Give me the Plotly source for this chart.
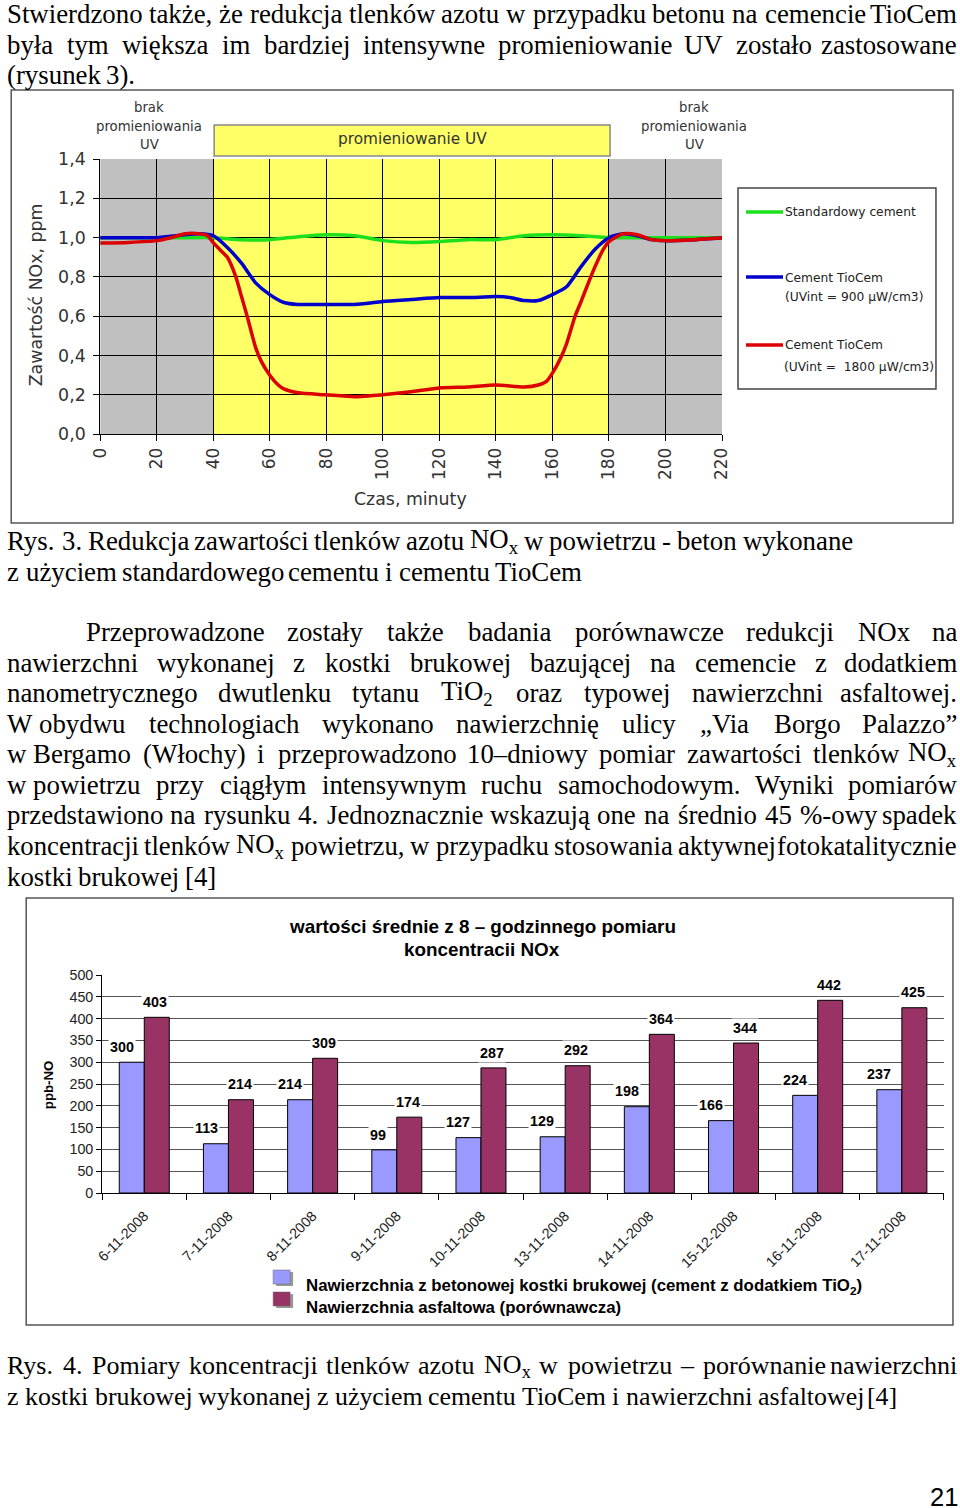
import re
import plotly.graph_objects as go

# Layout is written in page pixels of the 960x1508 page; the viewer shows the figure
# with a 10 px offset and a slight down-scale, which is compensated here.
SX, SY = 980.0 / 960.0, 1528.0 / 1508.0
W_PX, H_PX = 968, 1516
def X(px): return (px * SX - 10.0) / W_PX
def Y(py): return 1 - (py * SY - 10.0) / H_PX
def F(s): return s * SX

# ---------------- Fig. 3 data (NOx content, ppm vs time, min) ----------------
t_green = [0, 10, 20, 30, 40, 50, 60, 70, 80, 90, 100, 110, 120, 130, 140, 150, 160, 170, 180, 190, 200, 210, 220]
v_green = [1.0, 1.0, 1.0, 1.0, 1.0, 0.99, 0.99, 1.005, 1.015, 1.01, 0.985, 0.975, 0.98, 0.99, 0.99, 1.01, 1.015, 1.01, 1.0, 1.0, 1.0, 1.0, 1.0]

t_blue = [0, 10, 20, 30, 35, 40, 45, 50, 55, 60, 65, 70, 80, 90, 100, 110, 120, 130, 140, 145, 150, 155, 160, 165, 170, 175, 180, 185, 190, 195, 200, 210, 220]
v_blue = [1.0, 1.0, 1.0, 1.015, 1.02, 1.01, 0.95, 0.87, 0.77, 0.71, 0.67, 0.66, 0.66, 0.66, 0.675, 0.685, 0.695, 0.695, 0.70, 0.695, 0.68, 0.68, 0.71, 0.75, 0.85, 0.94, 1.0, 1.02, 1.01, 0.99, 0.985, 0.99, 1.0]

t_red = [0, 10, 20, 25, 30, 35, 38, 40, 43, 45, 48, 50, 52, 55, 57, 60, 63, 65, 70, 80, 90, 100, 110, 120, 130, 140, 150, 155, 158, 160, 163, 165, 168, 170, 173, 175, 178, 180, 185, 190, 195, 200, 210, 220]
v_red = [0.973, 0.976, 0.985, 1.0, 1.02, 1.02, 1.01, 0.975, 0.93, 0.90, 0.80, 0.70, 0.60, 0.44, 0.37, 0.30, 0.25, 0.23, 0.21, 0.20, 0.19, 0.20, 0.215, 0.235, 0.24, 0.25, 0.24, 0.25, 0.27, 0.31, 0.39, 0.46, 0.60, 0.67, 0.78, 0.85, 0.94, 0.98, 1.02, 1.015, 0.99, 0.985, 0.99, 1.0]

y3_ticks = [0, 0.2, 0.4, 0.6, 0.8, 1.0, 1.2, 1.4]
y3_labels = ["0,0", "0,2", "0,4", "0,6", "0,8", "1,0", "1,2", "1,4"]
x3_ticks = list(range(0, 221, 20))
phases = [(0, 40, "#C0C0C0"), (40, 180, "#FFFF66"), (180, 220, "#C0C0C0")]

# ---------------- Fig. 4 data (ppb-NO) ----------------
dates = ["6-11-2008", "7-11-2008", "8-11-2008", "9-11-2008", "10-11-2008",
         "13-11-2008", "14-11-2008", "15-12-2008", "16-11-2008", "17-11-2008"]
concrete = [300, 113, 214, 99, 127, 129, 198, 166, 224, 237]
asphalt = [403, 214, 309, 174, 287, 292, 364, 344, 442, 425]

# ---------------- page text ----------------
NB = "\u00a0"
para1 = [
    ("Stwierdzono także, że redukcja tlenków azotu w przypadku betonu na cemencie TioCem", True),
    ("była tym większa im bardziej intensywne promieniowanie UV zostało zastosowane", True),
    ("(rysunek 3).", False),
]
cap3 = [
    ("Rys. 3. Redukcja zawartości tlenków azotu NO<sub>x</sub> w powietrzu - beton wykonane", False),
    ("z użyciem standardowego cementu i cementu TioCem", False),
]
para2 = [
    ("Przeprowadzone zostały także badania porównawcze redukcji NOx na", True),
    ("nawierzchni wykonanej z kostki brukowej bazującej na cemencie z dodatkiem", True),
    ("nanometrycznego dwutlenku tytanu TiO<sub>2</sub> oraz typowej nawierzchni asfaltowej.", True),
    ("W" + NB + "obydwu technologiach wykonano nawierzchnię ulicy „Via Borgo Palazzo”", True),
    ("w" + NB + "Bergamo (Włochy) i przeprowadzono 10–dniowy pomiar zawartości tlenków NO<sub>x</sub>", True),
    ("w" + NB + "powietrzu przy ciągłym intensywnym ruchu samochodowym. Wyniki pomiarów", True),
    ("przedstawiono na rysunku 4. Jednoznacznie wskazują one na średnio 45 %-owy spadek", True),
    ("koncentracji tlenków NO<sub>x</sub> powietrzu, w przypadku stosowania aktywnej fotokatalitycznie", True),
    ("kostki brukowej [4]", False),
]
cap4 = [
    ("Rys. 4. Pomiary koncentracji tlenków azotu NO<sub>x</sub> w powietrzu – porównanie nawierzchni", True),
    ("z kostki brukowej wykonanej z użyciem cementu TioCem i nawierzchni asfaltowej [4]", True),
]

# Times-compatible advance widths (1/1000 em)
TW = {' ': 250, NB: 250, 'a': 444, 'b': 500, 'c': 444, 'd': 500, 'e': 444, 'f': 333, 'g': 500, 'h': 500,
      'i': 278, 'j': 278, 'k': 500, 'l': 278, 'm': 778, 'n': 500, 'o': 500, 'p': 500, 'q': 500,
      'r': 333, 's': 389, 't': 278, 'u': 500, 'v': 500, 'w': 722, 'x': 500, 'y': 500, 'z': 444,
      'A': 722, 'B': 667, 'C': 667, 'D': 722, 'E': 611, 'F': 556, 'G': 722, 'H': 722, 'I': 333,
      'J': 389, 'K': 722, 'L': 611, 'M': 889, 'N': 722, 'O': 722, 'P': 556, 'Q': 722, 'R': 667,
      'S': 556, 'T': 611, 'U': 722, 'V': 722, 'W': 944, 'X': 722, 'Y': 722, 'Z': 611,
      '.': 250, ',': 250, '-': 333, '(': 333, ')': 333, '[': 333, ']': 333, '%': 833,
      '„': 444, '”': 444, '–': 500, ':': 278}
PL = {'ą': 'a', 'ć': 'c', 'ę': 'e', 'ł': 'l', 'ń': 'n', 'ó': 'o', 'ś': 's', 'ź': 'z', 'ż': 'z',
      'Ł': 'L', 'Ś': 'S', 'Ż': 'Z'}

def cw(ch):
    ch = PL.get(ch, ch)
    return TW.get(ch, 500)

def word_w(word, size):
    total = 0.0
    for p in re.split(r'(<sub>.*?</sub>)', word):
        if p.startswith('<sub>'):
            total += sum(cw(c) for c in p[5:-6]) * 0.7
        else:
            total += sum(cw(c) for c in p)
    return total * size / 1000.0 * 1.006

annotations = []
shapes = []

def txt(text, x, y, size, family="DejaVu Sans", color="#222", xanchor="center", yanchor="middle",
        bold=False, angle=0, **kw):
    d = dict(text=text, x=X(x), y=Y(y), xref="paper", yref="paper", showarrow=False,
             xanchor=xanchor, yanchor=yanchor, textangle=angle, borderpad=0,
             font=dict(family=family, size=F(size), color=color, weight="bold" if bold else "normal"))
    d.update(kw)
    annotations.append(d)

SERIF = "Liberation Serif"
MIN_GAP = 0.27

def place_line(text, x0, x1, yc, size, justify):
    words = text.split(' ')
    widths = [word_w(w, size) for w in words]
    if justify and len(words) > 1:
        gap = (x1 - x0 - sum(widths)) / (len(words) - 1)
        if gap < MIN_GAP * size:   # too long for natural spacing: shrink a little
            size = size * (x1 - x0 - MIN_GAP * size * (len(words) - 1)) / sum(widths)
            widths = [word_w(w, size) for w in words]
            gap = (x1 - x0 - sum(widths)) / (len(words) - 1)
    else:
        gap = 250 * size / 1000.0
    x = x0
    for i, (w, wd) in enumerate(zip(words, widths)):
        if justify and len(words) > 1 and i == len(words) - 1:
            txt(w, x1, yc, size, family=SERIF, color="black", xanchor="right")
        else:
            txt(w, x, yc, size, family=SERIF, color="black", xanchor="left")
        x += wd + gap

FS = 26.3
for (line, j), yc in zip(para1, [14, 44.6, 75.2]):
    place_line(line, 5, 957, yc, FS, j)
for (line, j), yc in zip(cap3, [541, 571.5]):
    place_line(line, 5, 957, yc, FS, j)
for i, ((line, j), yc) in enumerate(zip(para2, [632, 662.5, 693, 723.5, 754, 784.5, 815, 845.5, 876.5])):
    place_line(line, 84 if i == 0 else 5, 957, yc, FS, j)
fs4 = 892.0 / (word_w(cap4[1][0], 1000) / 1000.0)
place_line(cap4[0][0], 5, 957, 1366, fs4, True)
place_line(cap4[1][0], 5, 897, 1396.5, fs4, True)

txt("21", 958, 1497, 25, family="Liberation Sans Narrow, Arial Narrow, Liberation Sans", color="black", xanchor="right")

# ---------------- Fig. 3 decorations ----------------
shapes.append(dict(type="rect", xref="paper", yref="paper", x0=X(10), x1=X(952), y0=Y(90), y1=Y(523),
                   line=dict(color="#555", width=1.5), fillcolor="rgba(0,0,0,0)"))
for a, b, col in phases:
    shapes.append(dict(type="rect", xref="x", yref="y", x0=a, x1=b, y0=0, y1=1.4, layer="below",
                       line=dict(width=0), fillcolor=col))
shapes.append(dict(type="rect", xref="paper", yref="paper", x0=X(213), x1=X(609), y0=Y(156), y1=Y(125),
                   line=dict(color="#888", width=1.5), fillcolor="#FFFF66"))
txt("promieniowanie UV", 411, 139, 15, color="#333")
for cx in (148, 693):
    for s, yy in zip(["brak", "promieniowania", "UV"], [107, 126, 144.5]):
        txt(s, cx, yy, 13, color="#333")
shapes.append(dict(type="rect", xref="paper", yref="paper", x0=X(737), x1=X(935), y0=Y(389), y1=Y(188),
                   line=dict(color="#444", width=1.5), fillcolor="white"))
for yy, col in [(212, "#1BE01B"), (277, "#0000CC"), (345, "#DD0000")]:
    shapes.append(dict(type="line", xref="paper", yref="paper", x0=X(745), x1=X(782), y0=Y(yy), y1=Y(yy),
                       line=dict(color=col, width=3.5)))
txt("Standardowy cement", 783, 212, 12, xanchor="left")
txt("Cement TioCem", 783, 278, 12, xanchor="left")
txt("(UVint = 900 µW/cm3)", 783, 297, 12, xanchor="left")
txt("Cement TioCem", 783, 345, 12, xanchor="left")
txt("(UVint =  1800 µW/cm3)", 782, 366.5, 12, xanchor="left")
txt("Zawartość NOx, ppm", 35, 295, 17, color="#333", angle=-90)
txt("Czas, minuty", 409, 499, 17, color="#333")

# ---------------- Fig. 4 decorations ----------------
shapes.append(dict(type="rect", xref="paper", yref="paper", x0=X(25), x1=X(952), y0=Y(898), y1=Y(1325),
                   line=dict(color="#555", width=1.5), fillcolor="rgba(0,0,0,0)"))
txt("wartości średnie z 8 – godzinnego pomiaru", 481, 926, 18.5, family="Liberation Sans", color="black", bold=True)
txt("koncentracii NOx", 481, 949, 18.5, family="Liberation Sans", color="black", bold=True)
txt("ppb-NO", 47, 1085, 13, family="Liberation Sans", color="black", bold=True, angle=-90)
for yy, col in [(1278, "#9999FF"), (1300, "#993366")]:
    shapes.append(dict(type="rect", xref="paper", yref="paper", x0=X(275), x1=X(292), y0=Y(yy + 8), y1=Y(yy - 6),
                       line=dict(width=0), fillcolor="#999"))
    shapes.append(dict(type="rect", xref="paper", yref="paper", x0=X(272), x1=X(289), y0=Y(yy + 6), y1=Y(yy - 8),
                       line=dict(color="#666", width=0.5), fillcolor=col))
txt("Nawierzchnia z betonowej kostki brukowej (cement z dodatkiem TiO<sub>2</sub>)", 304, 1287, 16.5,
    family="Liberation Sans", color="black", bold=True, xanchor="left")
txt("Nawierzchnia asfaltowa (porównawcza)", 304, 1308, 16.5,
    family="Liberation Sans", color="black", bold=True, xanchor="left")

for d, v in zip(dates, concrete):
    annotations.append(dict(text=str(v), x=d, y=v, xref="x2", yref="y2", showarrow=False, xanchor="right",
                            xshift=F(-8.5), yshift=F(15), bgcolor="white", borderpad=1,
                            font=dict(family="Liberation Sans", size=F(14), color="black", weight="bold")))
for d, v in zip(dates, asphalt):
    annotations.append(dict(text=str(v), x=d, y=v, xref="x2", yref="y2", showarrow=False, xshift=F(11), yshift=F(15),
                            bgcolor="white", borderpad=1,
                            font=dict(family="Liberation Sans", size=F(14), color="black", weight="bold")))

# ---------------- traces ----------------
fig = go.Figure()
fig.add_trace(go.Scatter(x=t_green, y=v_green, mode="lines", line=dict(color="#1BE01B", width=3.5, shape="spline", smoothing=0.6),
                         xaxis="x", yaxis="y", showlegend=False, name="Standardowy cement"))
fig.add_trace(go.Scatter(x=t_blue, y=v_blue, mode="lines", line=dict(color="#0000CC", width=3.5, shape="spline", smoothing=0.6),
                         xaxis="x", yaxis="y", showlegend=False, name="Cement TioCem 900"))
fig.add_trace(go.Scatter(x=t_red, y=v_red, mode="lines", line=dict(color="#DD0000", width=3.5, shape="spline", smoothing=0.6),
                         xaxis="x", yaxis="y", showlegend=False, name="Cement TioCem 1800"))
fig.add_trace(go.Bar(x=dates, y=concrete, marker=dict(color="#9999FF", line=dict(color="black", width=1)),
                     xaxis="x2", yaxis="y2", showlegend=False, name="beton"))
fig.add_trace(go.Bar(x=dates, y=asphalt, marker=dict(color="#993366", line=dict(color="black", width=1)),
                     xaxis="x2", yaxis="y2", showlegend=False, name="asfalt"))

fig.update_layout(
    width=W_PX, height=H_PX, autosize=False,
    margin=dict(l=0, r=0, t=0, b=0),
    paper_bgcolor="white", plot_bgcolor="rgba(0,0,0,0)",
    barmode="group", bargap=0.406, bargroupgap=0,
    showlegend=False,
    xaxis=dict(domain=[X(99), X(721)], range=[0, 220], anchor="y", tickvals=x3_ticks, tickangle=-90,
               ticks="outside", ticklen=6, tickcolor="black", showgrid=True, gridcolor="black", gridwidth=1,
               showline=True, linecolor="black", zeroline=False, ticklabelstandoff=0,
               tickfont=dict(family="DejaVu Sans", size=F(16.5), color="#333")),
    yaxis=dict(domain=[Y(434), Y(159)], range=[0, 1.4], anchor="x", tickvals=y3_ticks, ticktext=y3_labels,
               ticks="outside", ticklen=6, tickcolor="black", showgrid=True, gridcolor="black", gridwidth=1,
               showline=True, linecolor="black", zeroline=False, ticklabelstandoff=4,
               tickfont=dict(family="DejaVu Sans", size=F(17), color="#333")),
    xaxis2=dict(domain=[X(101), X(943)], type="category", anchor="y2", ticks="outside", tickson="boundaries",
                ticklen=6, tickcolor="black", showline=True, linecolor="black", tickangle=-45, showgrid=False,
                ticklabelstandoff=8, tickfont=dict(family="Liberation Sans", size=F(14), color="#222")),
    yaxis2=dict(domain=[Y(1193), Y(975)], range=[0, 500], anchor="x2", dtick=50, ticks="outside", ticklen=5,
                tickcolor="black", showline=True, linecolor="black", showgrid=True, gridcolor="#555",
                zeroline=False, tickfont=dict(family="Liberation Sans", size=F(14), color="#222")),
    shapes=shapes, annotations=annotations,
)

fig.write_html("out.html", config={"displayModeBar": False}, post_script=(
    "document.documentElement.style.margin='0';document.body.style.margin='0';"
    "document.querySelectorAll('svg').forEach(function(s){s.style.overflow='visible';});"))
